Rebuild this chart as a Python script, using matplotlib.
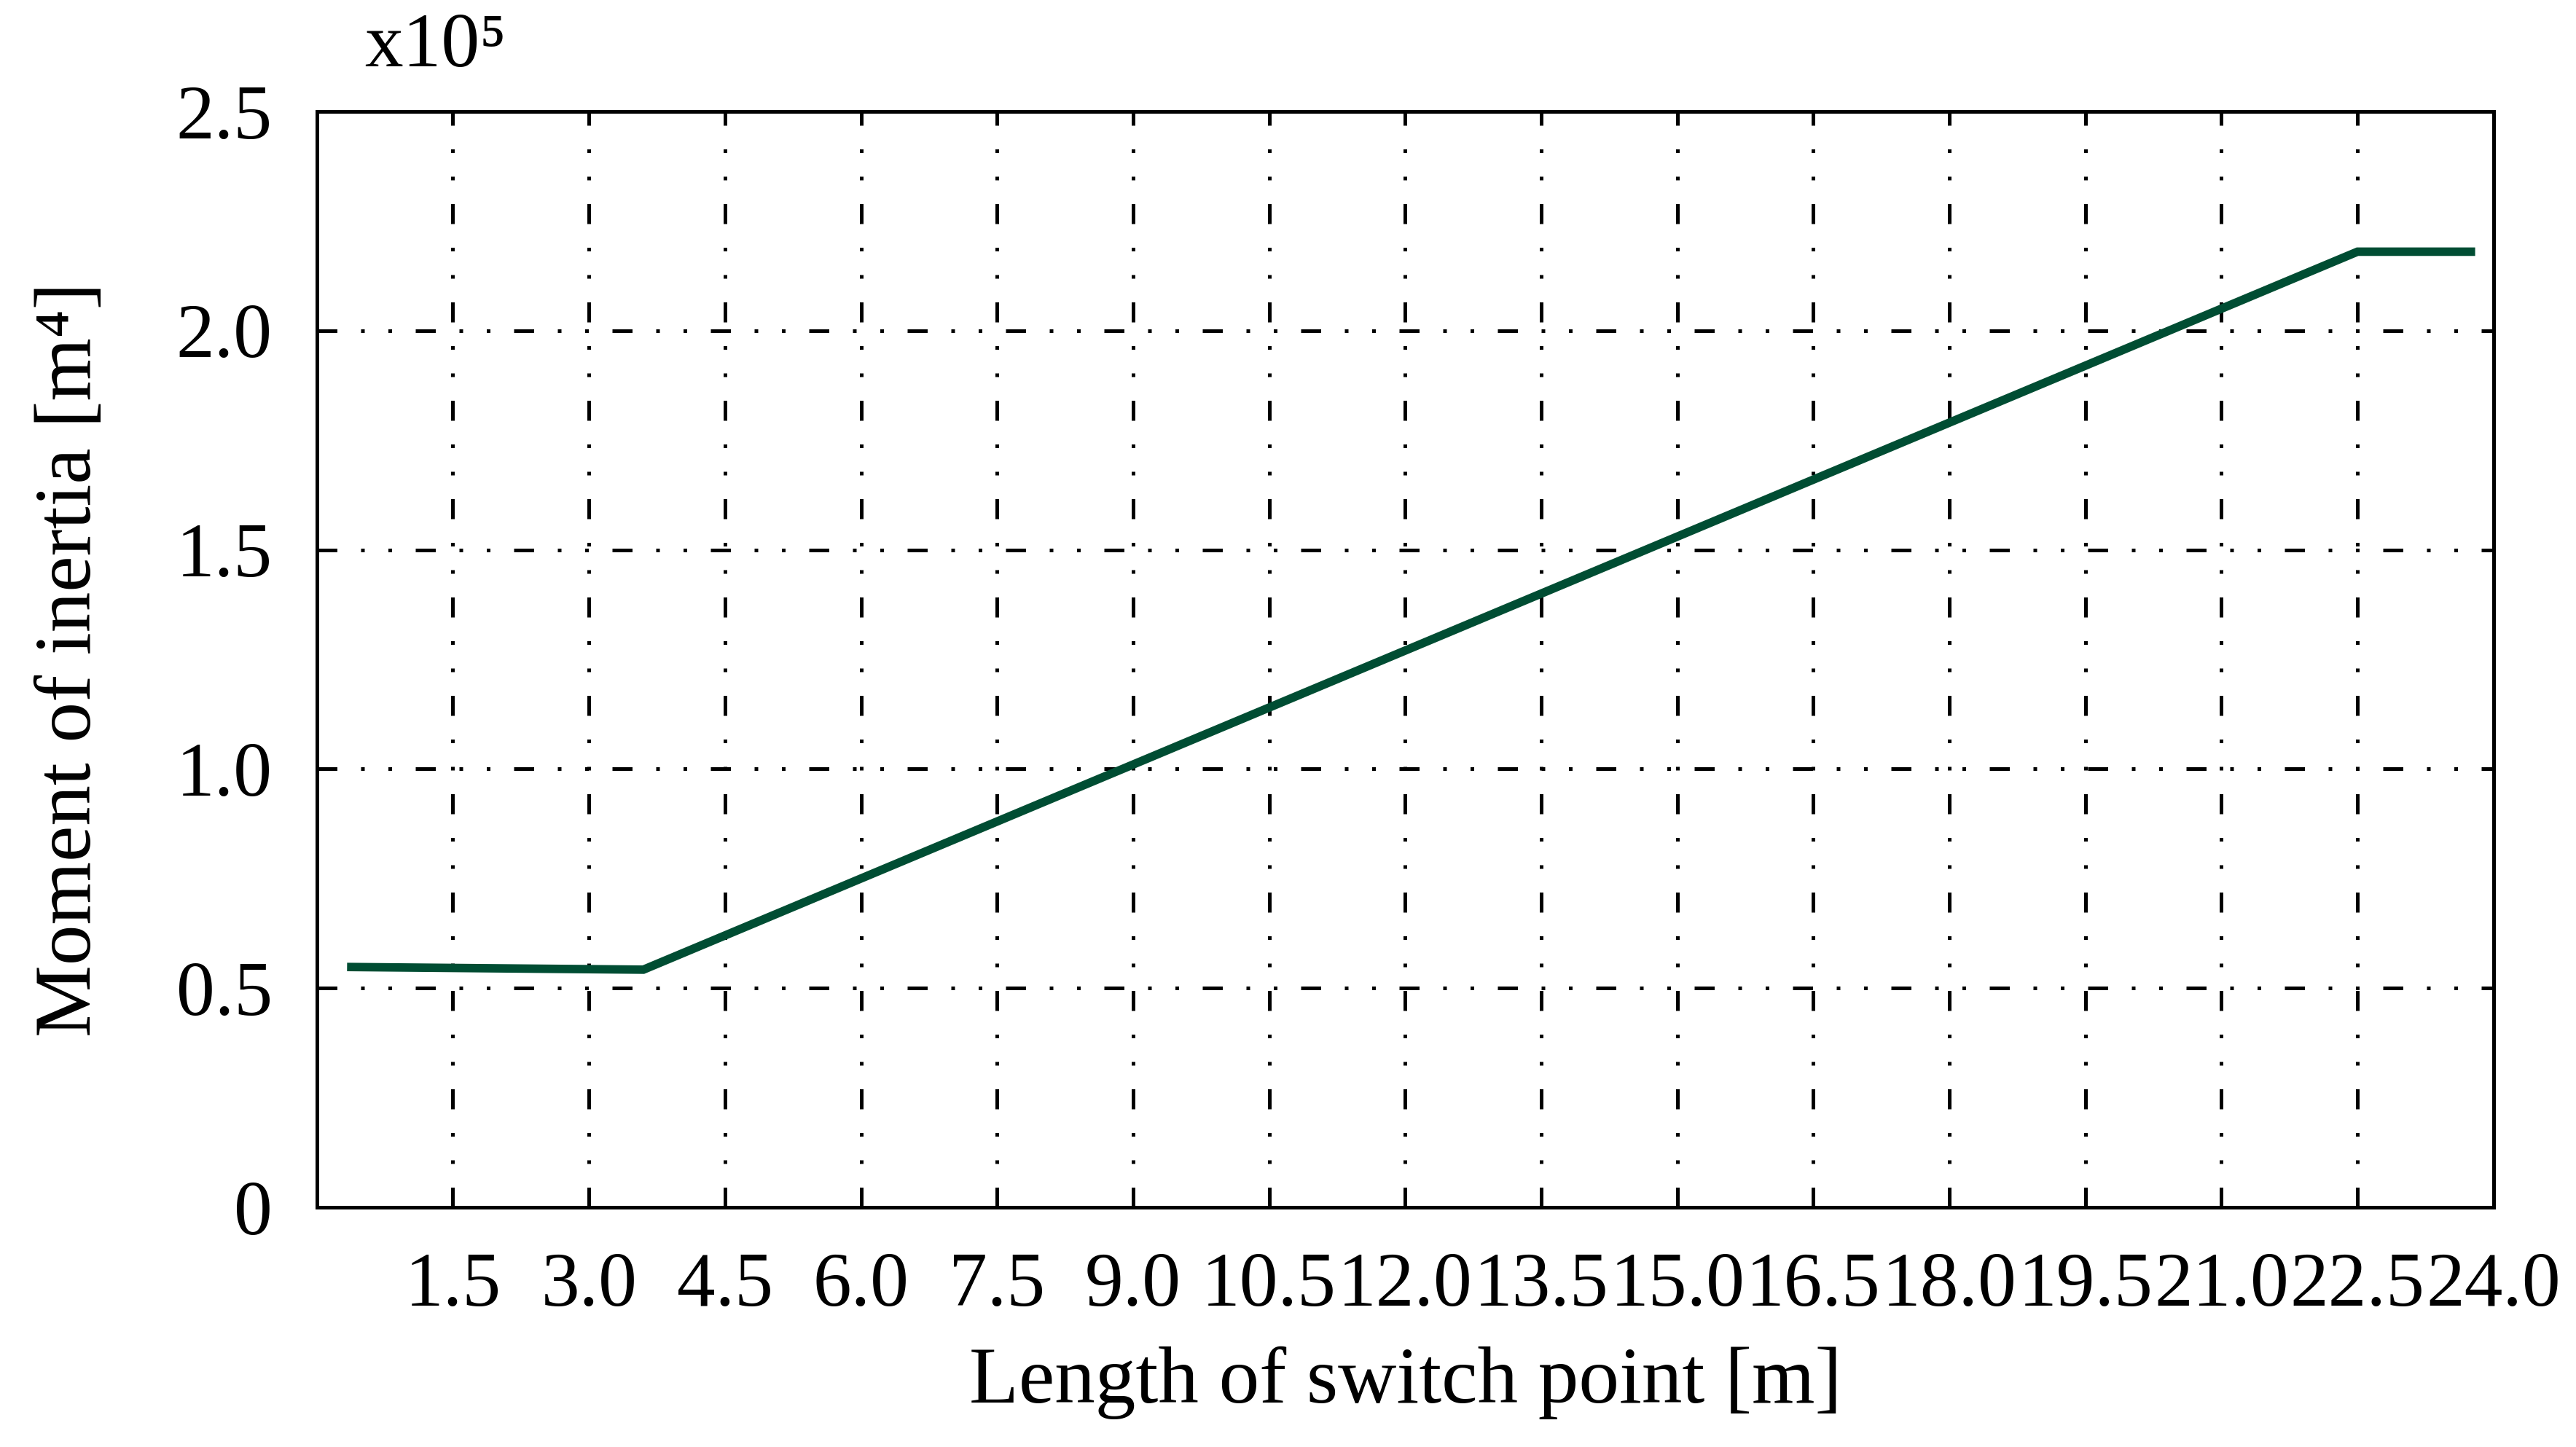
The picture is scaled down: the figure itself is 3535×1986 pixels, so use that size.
import matplotlib
matplotlib.use("Agg")
import matplotlib.pyplot as plt
from matplotlib.ticker import FixedLocator, FixedFormatter

# Data (values in units of 1e5 m^4)
length_m = [0.38, 3.6, 22.5, 23.75]
inertia_e5 = [0.548, 0.542, 2.18, 2.18]

x_ticks = [1.5, 3.0, 4.5, 6.0, 7.5, 9.0, 10.5, 12.0, 13.5, 15.0, 16.5,
           18.0, 19.5, 21.0, 22.5, 24.0]
x_tick_labels = ["1.5", "3.0", "4.5", "6.0", "7.5", "9.0", "10.5", "12.0",
                 "13.5", "15.0", "16.5", "18.0", "19.5", "21.0", "22.5", "24.0"]
y_ticks = [0, 0.5, 1.0, 1.5, 2.0, 2.5]
y_tick_labels = ["0", "0.5", "1.0", "1.5", "2.0", "2.5"]

plt.rcParams['font.family'] = ['Liberation Serif', 'DejaVu Serif']

DPI = 200
fig = plt.figure(figsize=(3535 / DPI, 1986 / DPI), dpi=DPI)
ax = fig.add_axes([0.123, 0.1657, 0.845, 0.7573])

ax.plot(length_m, inertia_e5, color='#004d33', lw=4.2, solid_joinstyle='miter',
        zorder=3)

ax.set_xlim(0, 24)
ax.set_ylim(0, 2.5)
ax.xaxis.set_major_locator(FixedLocator(x_ticks))
ax.xaxis.set_major_formatter(FixedFormatter(x_tick_labels))
ax.yaxis.set_major_locator(FixedLocator(y_ticks))
ax.yaxis.set_major_formatter(FixedFormatter(y_tick_labels))

ax.grid(True, color='black', lw=1.8, linestyle=(0, (5.5, 6.5, 1.0, 6.5, 1.0, 6.5)),
        zorder=1)
ax.tick_params(direction='in', length=3, width=1.2, labelsize=38, pad=22,
               colors='black')
ax.tick_params(axis='y', pad=22)

for s in ax.spines.values():
    s.set_linewidth(1.8)
    s.set_color('black')

ax.set_xlabel("Length of switch point [m]", fontsize=40, labelpad=12)
ax.set_ylabel("Moment of inertia [m\u2074]", fontsize=40, labelpad=34)

fig.text(500 / 3535, 1 - 66 / 1986, "x10\u2075", fontsize=38, ha='left', va='center')

fig.savefig("out.png", dpi=DPI, facecolor='white')
